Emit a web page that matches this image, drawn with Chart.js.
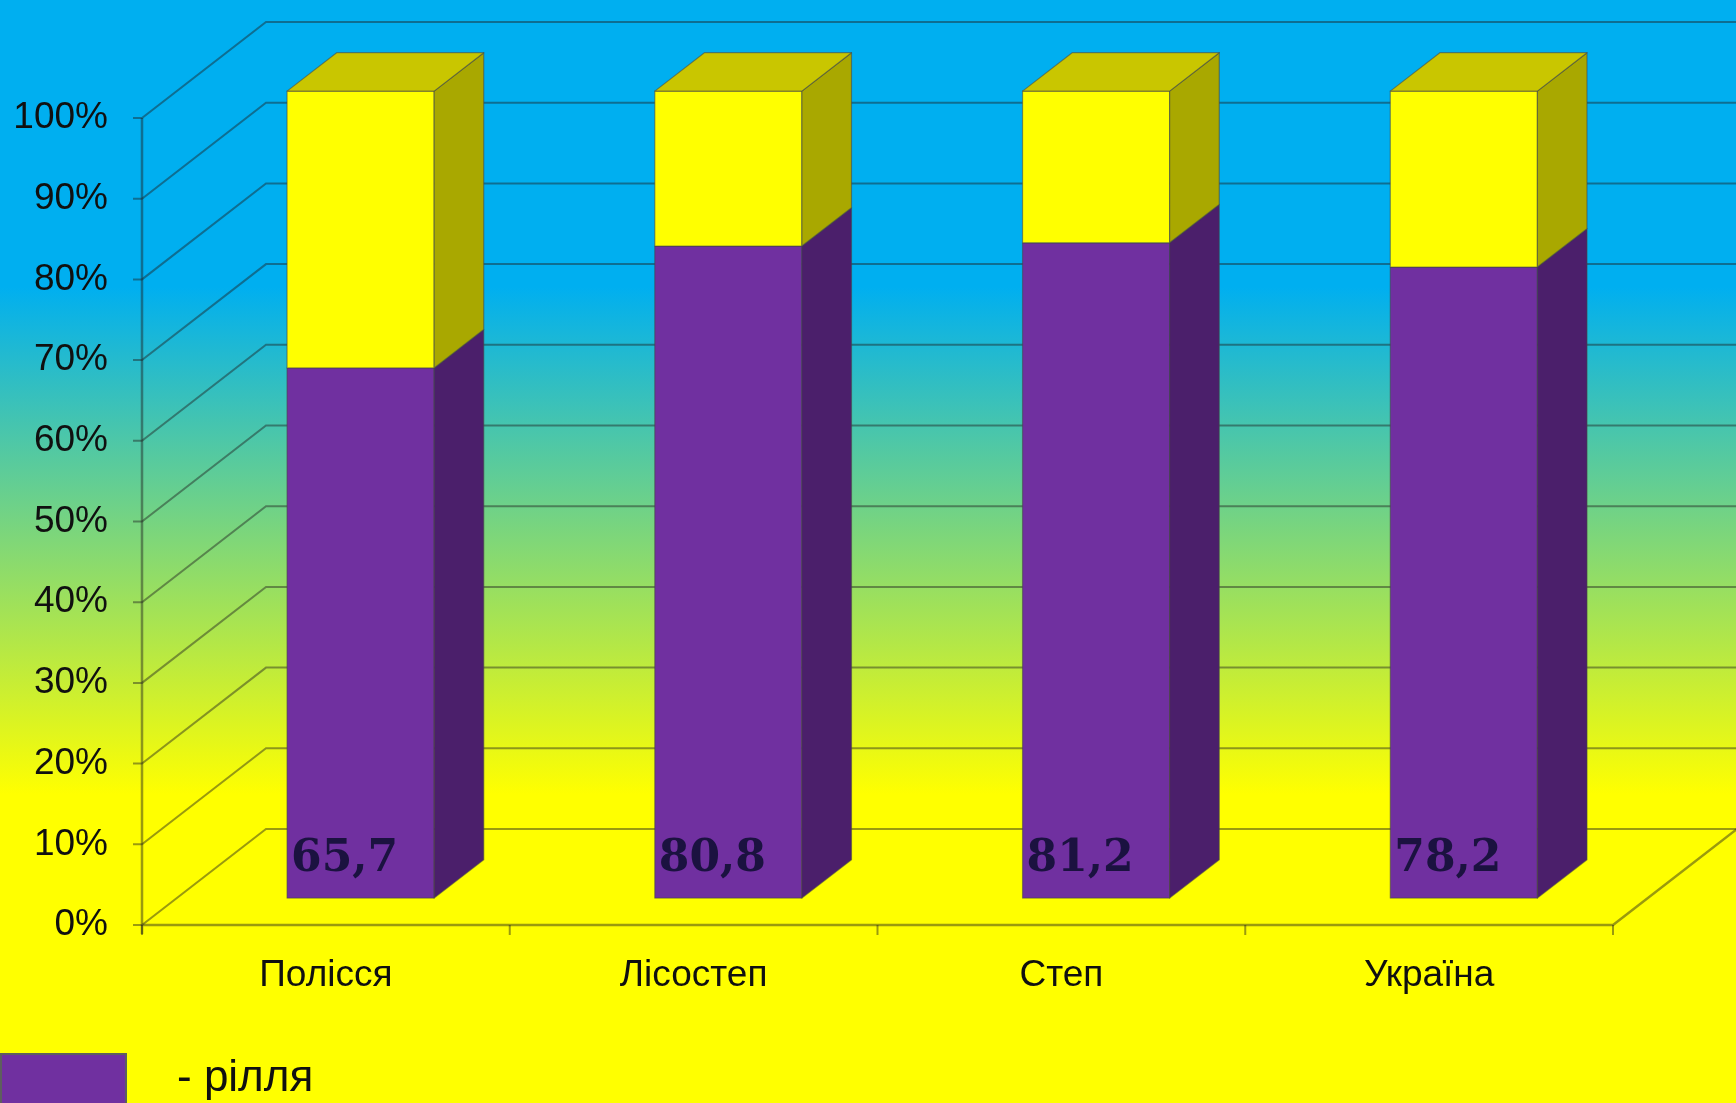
<!DOCTYPE html>
<html>
<head>
<meta charset="utf-8">
<script src="https://cdn.jsdelivr.net/npm/chart.js@4.4.0/dist/chart.umd.min.js"></script>
<style>
  html, body { margin: 0; padding: 0; overflow: hidden; background: #ffff00; }
  #landChart { display: block; }
</style>
</head>
<body>
<canvas id="landChart" width="1736" height="1103"></canvas>
<script>
// land structure by natural zone, % of agricultural land
const regions = ['Полісся', 'Лісостеп', 'Степ', 'Україна'];
const arableShare = [65.7, 80.8, 81.2, 78.2];
const otherShare = [34.3, 19.2, 18.8, 21.8];
const legendLabel = '- рілля';

// fake 3d: how far the back wall sits behind the axes, and where the boxes stand
const DEPTH = { x: 124, y: 96 };
const BAR_SHIFT = 0.28;
const BAR_DEPTH = 0.40;

const gridColor = 'rgba(30, 30, 30, 0.45)';
const edgeColor = 'rgba(70, 70, 70, 0.55)';
const textColor = '#101010';

function percent(v) {
    return v + '%';
}

function commaNumber(v) {
    return v.toFixed(1).replace('.', ',');
}

function fillPoly(ctx, pts, color) {
    ctx.beginPath();
    ctx.moveTo(pts[0][0], pts[0][1]);
    for (let i = 1; i < pts.length; i++) {
        ctx.lineTo(pts[i][0], pts[i][1]);
    }
    ctx.closePath();
    ctx.fillStyle = color;
    ctx.fill();
    ctx.stroke();
}

const boxes3d = {
    id: 'boxes3d',
    beforeDraw(chart) {
        const ctx = chart.ctx;
        const g = ctx.createLinearGradient(0, 0, 0, chart.height);
        g.addColorStop(0, '#00aff0');
        g.addColorStop(0.26, '#00aff0');
        g.addColorStop(0.72, '#ffff00');
        g.addColorStop(1, '#ffff00');
        ctx.save();
        ctx.fillStyle = g;
        ctx.fillRect(0, 0, chart.width, chart.height);
        ctx.restore();
    },
    beforeDatasetsDraw(chart) {
        const ctx = chart.ctx;
        const area = chart.chartArea;
        const xs = chart.scales.x;
        const ys = chart.scales.y;

        ctx.save();
        ctx.lineCap = 'butt';

        // side wall diagonals and back wall lines
        ctx.strokeStyle = gridColor;
        ctx.lineWidth = 2;
        ys.ticks.forEach(t => {
            const py = ys.getPixelForValue(t.value);
            ctx.beginPath();
            ctx.moveTo(area.left - 9, py);
            ctx.lineTo(area.left, py);
            ctx.lineTo(area.left + DEPTH.x, py - DEPTH.y);
            ctx.lineTo(area.right + DEPTH.x + 10, py - DEPTH.y);
            ctx.stroke();
        });

        // front axes and floor edge
        const y0 = ys.getPixelForValue(0);
        ctx.lineWidth = 2.5;
        ctx.beginPath();
        ctx.moveTo(area.left, ys.getPixelForValue(100));
        ctx.lineTo(area.left, y0 + 9);
        ctx.moveTo(area.left, y0);
        ctx.lineTo(area.right, y0);
        ctx.lineTo(area.right + DEPTH.x, y0 - DEPTH.y);
        ctx.stroke();
        ctx.lineWidth = 2;
        ctx.beginPath();
        for (let i = 0; i <= regions.length; i++) {
            const px = xs.left + (xs.right - xs.left) * i / regions.length;
            ctx.moveTo(px, y0);
            ctx.lineTo(px, y0 + 10);
        }
        ctx.stroke();

        // boxes, bottom segment first
        const sx = DEPTH.x * BAR_SHIFT, sy = DEPTH.y * BAR_SHIFT;
        const dx = DEPTH.x * BAR_DEPTH, dy = DEPTH.y * BAR_DEPTH;
        const sets = chart.data.datasets;
        ctx.strokeStyle = edgeColor;
        ctx.lineWidth = 1.2;
        ctx.lineJoin = 'round';
        for (let i = 0; i < regions.length; i++) {
            sets.forEach((ds, di) => {
                const bar = chart.getDatasetMeta(di).data[i];
                const p = bar.getProps(['x', 'y', 'base', 'width'], true);
                const l = p.x - p.width / 2 + sx;
                const r = p.x + p.width / 2 + sx;
                const t = p.y - sy;
                const b = p.base - sy;
                fillPoly(ctx, [[l, t], [r, t], [r, b], [l, b]], ds.backgroundColor);
                fillPoly(ctx, [[r, t], [r + dx, t - dy], [r + dx, b - dy], [r, b]], ds.sideColor);
                if (di === sets.length - 1) {
                    fillPoly(ctx, [[l, t], [l + dx, t - dy], [r + dx, t - dy], [r, t]], ds.topColor);
                }
            });
        }

        // values on the arable segment
        ctx.fillStyle = '#1b1240';
        ctx.font = "bold 44px 'DejaVu Serif', serif";
        ctx.textAlign = 'left';
        ctx.textBaseline = 'alphabetic';
        chart.getDatasetMeta(0).data.forEach((bar, i) => {
            const p = bar.getProps(['x', 'base', 'width'], true);
            ctx.fillText(commaNumber(arableShare[i]), p.x - p.width / 2 + sx + 4, p.base - sy - 27);
        });

        ctx.restore();
        return false;
    },
    afterDraw(chart) {
        const ctx = chart.ctx;
        ctx.save();
        ctx.fillStyle = '#7030a0';
        ctx.strokeStyle = '#5e5e5e';
        ctx.lineWidth = 2;
        ctx.fillRect(0, 1053, 127, 60);
        ctx.strokeRect(1, 1054, 125, 60);
        ctx.fillStyle = textColor;
        ctx.font = "44px 'Liberation Sans', Arial, sans-serif";
        ctx.textBaseline = 'alphabetic';
        ctx.fillText(legendLabel, 177, 1091);
        ctx.restore();
    }
};

const ctx = document.getElementById('landChart').getContext('2d');
new Chart(ctx, {
    type: 'bar',
    data: {
        labels: regions,
        datasets: [{
            label: 'рілля',
            data: arableShare,
            backgroundColor: '#7030a0',
            sideColor: '#4b1f6b',
            topColor: '#5c2786'
        }, {
            label: 'інші угіддя',
            data: otherShare,
            backgroundColor: '#ffff00',
            sideColor: '#a9a800',
            topColor: '#c9c600'
        }]
    },
    options: {
        responsive: false,
        animation: false,
        devicePixelRatio: 1,
        layout: {
            padding: { left: 0, top: 118, right: 123, bottom: 0 }
        },
        plugins: {
            legend: { display: false },
            tooltip: { enabled: false }
        },
        datasets: {
            bar: {
                categoryPercentage: 1,
                barPercentage: 0.40
            }
        },
        scales: {
            x: {
                stacked: true,
                grid: { display: false, drawTicks: false },
                border: { display: false },
                ticks: {
                    color: textColor,
                    padding: 29,
                    font: { family: "'Liberation Sans', Arial, sans-serif", size: 37 }
                },
                afterFit(scale) { scale.height = 178; }
            },
            y: {
                stacked: true,
                min: 0,
                max: 100,
                grid: { display: false, drawTicks: false },
                border: { display: false },
                ticks: {
                    stepSize: 10,
                    color: textColor,
                    padding: 34,
                    callback: percent,
                    font: { family: "'Liberation Sans', Arial, sans-serif", size: 37 }
                },
                afterFit(scale) { scale.width = 142; }
            }
        }
    },
    plugins: [boxes3d]
});
</script>
</body>
</html>
